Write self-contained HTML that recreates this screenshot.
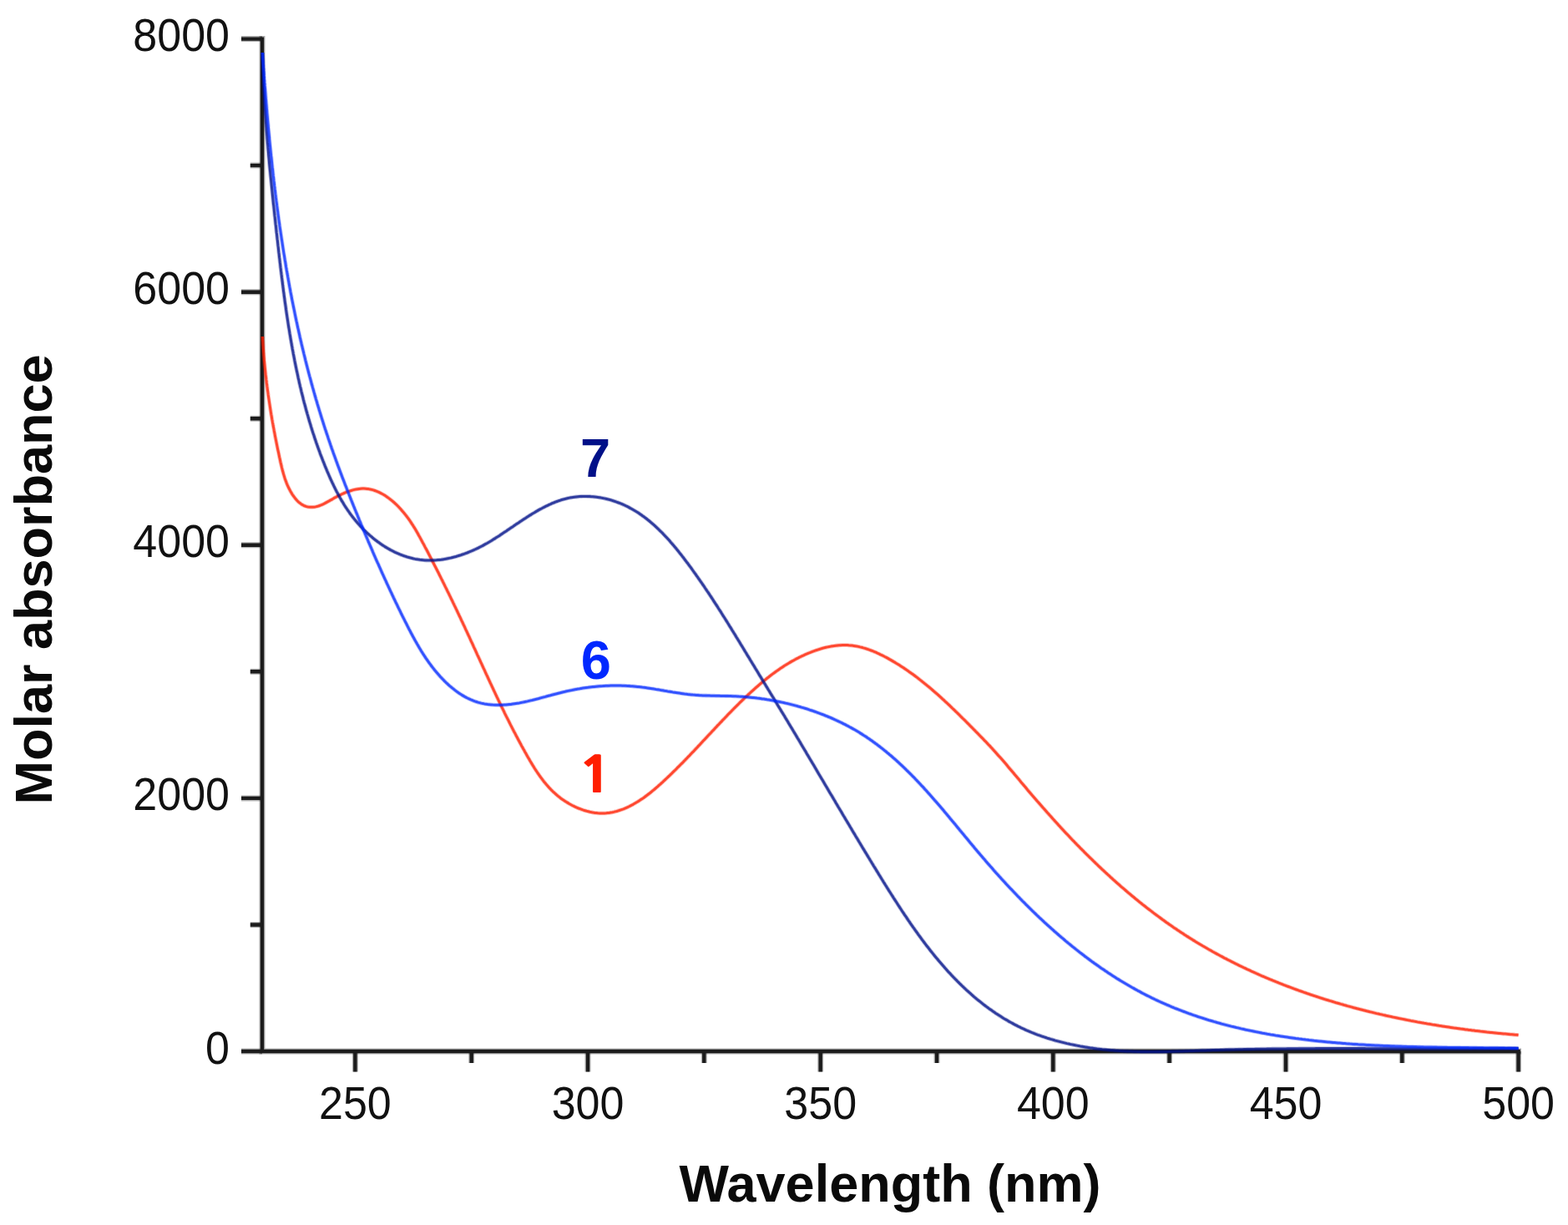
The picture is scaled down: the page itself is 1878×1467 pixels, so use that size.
<!DOCTYPE html>
<html><head><meta charset="utf-8"><title>Molar absorbance vs wavelength</title>
<style>
html,body{margin:0;padding:0;background:#fff;}
body{width:1878px;height:1467px;overflow:hidden;}
svg{display:block;}
text{font-family:"Liberation Sans",Arial,Helvetica,sans-serif;}
</style></head>
<body>
<svg width="1878" height="1467" viewBox="0 0 1878 1467">
<defs>
<path id="cr" d="M314.4 403.0L314.5 405.0L314.6 407.1L314.8 409.1L314.9 411.1L315.0 413.1L315.2 415.1L315.3 417.2L315.5 419.2L315.6 421.2L315.8 423.2L315.9 425.2L316.1 427.2L316.3 429.2L316.4 431.2L316.6 433.2L316.8 435.2L317.0 437.2L317.2 439.2L317.4 441.1L317.6 443.1L317.8 445.1L318.0 447.1L318.2 449.1L318.5 451.1L318.7 453.0L318.9 455.0L319.2 457.0L319.4 459.0L319.7 460.9L319.9 462.9L320.2 464.9L320.4 466.8L320.7 468.8L321.0 470.8L321.2 472.7L321.5 474.7L321.8 476.7L322.1 478.6L322.4 480.6L322.7 482.6L323.0 484.5L323.3 486.5L323.6 488.5L323.9 490.4L324.2 492.4L324.5 494.4L324.8 496.3L325.2 498.3L325.5 500.2L325.8 502.2L326.2 504.2L326.5 506.1L326.9 508.1L327.2 510.1L327.6 512.0L328.0 514.0L328.3 516.0L328.7 517.9L329.1 519.9L329.4 521.9L329.8 523.8L330.2 525.8L330.6 527.8L331.0 529.8L331.4 531.7L331.8 533.7L332.2 535.7L332.6 537.7L333.0 539.7L333.5 541.6L333.9 543.6L334.3 545.6L334.7 547.6L335.2 549.6L335.6 551.6L336.0 553.6L336.5 555.6L337.0 557.6L337.4 559.5L337.9 561.5L338.4 563.5L339.0 565.5L339.5 567.4L340.1 569.4L340.7 571.4L341.3 573.3L342.0 575.2L342.7 577.1L343.4 579.0L344.2 580.9L345.1 582.8L345.9 584.6L346.9 586.4L347.8 588.2L348.9 590.0L349.9 591.8L351.1 593.5L352.3 595.1L353.5 596.7L354.8 598.3L356.1 599.7L357.5 601.1L359.0 602.3L360.5 603.4L362.0 604.4L363.6 605.3L365.3 606.0L367.0 606.6L368.7 607.0L370.5 607.2L372.3 607.3L374.1 607.3L375.9 607.2L377.8 606.9L379.6 606.5L381.5 606.0L383.3 605.3L385.1 604.6L386.9 603.8L388.8 602.9L390.6 601.9L392.4 600.9L394.3 599.9L396.1 598.8L398.0 597.8L399.8 596.7L401.7 595.7L403.5 594.7L405.4 593.7L407.3 592.8L409.2 591.9L411.1 591.0L413.0 590.2L414.9 589.4L416.8 588.7L418.7 588.1L420.7 587.5L422.6 586.9L424.5 586.4L426.4 586.0L428.3 585.7L430.2 585.4L432.1 585.2L434.0 585.1L435.9 585.1L437.8 585.2L439.7 585.4L441.5 585.6L443.4 586.0L445.2 586.4L447.1 586.9L448.9 587.5L450.7 588.2L452.5 588.9L454.3 589.7L456.1 590.6L457.8 591.5L459.6 592.5L461.3 593.6L463.0 594.7L464.7 595.9L466.3 597.1L467.9 598.4L469.5 599.7L471.1 601.0L472.7 602.4L474.2 603.8L475.7 605.3L477.2 606.8L478.6 608.3L480.0 609.8L481.4 611.4L482.7 612.9L484.0 614.5L485.3 616.1L486.6 617.7L487.8 619.3L489.0 620.9L490.2 622.6L491.3 624.2L492.4 625.9L493.5 627.6L494.6 629.2L495.6 630.9L496.7 632.6L497.7 634.3L498.7 636.0L499.7 637.7L500.7 639.5L501.6 641.2L502.6 642.9L503.5 644.6L504.5 646.4L505.4 648.1L506.3 649.9L507.3 651.6L508.2 653.3L509.1 655.1L510.0 656.8L511.0 658.6L511.9 660.3L512.8 662.0L513.7 663.8L514.6 665.5L515.5 667.3L516.4 669.0L517.3 670.8L518.2 672.5L519.1 674.3L520.0 676.0L520.9 677.8L521.8 679.5L522.7 681.3L523.6 683.0L524.5 684.8L525.4 686.5L526.2 688.3L527.1 690.0L528.0 691.8L528.9 693.6L529.8 695.3L530.6 697.1L531.5 698.8L532.4 700.6L533.2 702.4L534.1 704.1L535.0 705.9L535.8 707.6L536.7 709.4L537.6 711.2L538.4 712.9L539.3 714.7L540.1 716.5L541.0 718.2L541.9 720.0L542.7 721.8L543.6 723.6L544.4 725.3L545.3 727.1L546.1 728.9L547.0 730.7L547.8 732.4L548.6 734.2L549.5 736.0L550.3 737.8L551.2 739.5L552.0 741.3L552.8 743.1L553.7 744.9L554.5 746.7L555.3 748.4L556.2 750.2L557.0 752.0L557.8 753.8L558.7 755.6L559.5 757.4L560.3 759.2L561.1 760.9L562.0 762.7L562.8 764.5L563.6 766.3L564.4 768.1L565.3 769.9L566.1 771.7L566.9 773.5L567.7 775.3L568.6 777.1L569.4 778.9L570.2 780.7L571.0 782.5L571.8 784.3L572.7 786.1L573.5 787.9L574.3 789.6L575.1 791.4L575.9 793.2L576.8 795.0L577.6 796.8L578.4 798.6L579.2 800.4L580.1 802.2L580.9 804.0L581.7 805.8L582.5 807.6L583.4 809.4L584.2 811.2L585.0 813.0L585.9 814.8L586.7 816.6L587.5 818.4L588.4 820.2L589.2 822.0L590.1 823.8L590.9 825.6L591.7 827.4L592.6 829.2L593.4 831.0L594.3 832.8L595.1 834.6L596.0 836.4L596.8 838.2L597.7 840.0L598.6 841.8L599.4 843.6L600.3 845.3L601.1 847.1L602.0 848.9L602.9 850.7L603.8 852.5L604.6 854.3L605.5 856.1L606.4 857.9L607.3 859.6L608.2 861.4L609.1 863.2L610.0 865.0L610.9 866.8L611.8 868.6L612.7 870.3L613.6 872.1L614.5 873.9L615.4 875.7L616.4 877.4L617.3 879.2L618.2 881.0L619.2 882.8L620.1 884.5L621.0 886.3L622.0 888.1L622.9 889.8L623.9 891.6L624.8 893.4L625.8 895.1L626.8 896.9L627.8 898.6L628.7 900.4L629.7 902.1L630.7 903.9L631.7 905.7L632.7 907.4L633.7 909.1L634.7 910.9L635.7 912.6L636.8 914.4L637.8 916.1L638.9 917.8L639.9 919.5L641.0 921.2L642.1 922.9L643.2 924.5L644.3 926.2L645.5 927.9L646.6 929.5L647.8 931.1L649.0 932.7L650.2 934.3L651.4 935.9L652.7 937.4L654.0 939.0L655.3 940.5L656.6 942.0L657.9 943.5L659.3 944.9L660.7 946.4L662.1 947.8L663.6 949.1L665.1 950.5L666.6 951.8L668.1 953.1L669.7 954.4L671.3 955.7L673.0 956.9L674.7 958.1L676.4 959.2L678.1 960.3L679.9 961.4L681.7 962.5L683.5 963.5L685.3 964.5L687.2 965.4L689.1 966.3L690.9 967.2L692.9 968.0L694.8 968.7L696.7 969.4L698.7 970.1L700.6 970.7L702.6 971.3L704.5 971.8L706.5 972.3L708.5 972.7L710.4 973.1L712.4 973.4L714.3 973.6L716.3 973.8L718.2 973.9L720.1 973.9L722.0 973.9L724.0 973.9L725.8 973.8L727.7 973.6L729.6 973.4L731.5 973.1L733.3 972.8L735.2 972.4L737.0 971.9L738.8 971.5L740.6 970.9L742.5 970.3L744.3 969.7L746.0 969.1L747.8 968.4L749.6 967.6L751.3 966.8L753.1 966.0L754.8 965.1L756.6 964.2L758.3 963.3L760.0 962.3L761.7 961.3L763.4 960.3L765.1 959.2L766.8 958.1L768.4 957.0L770.1 955.9L771.8 954.7L773.4 953.5L775.0 952.3L776.7 951.0L778.3 949.8L779.9 948.5L781.5 947.2L783.1 945.9L784.7 944.5L786.2 943.2L787.8 941.8L789.3 940.4L790.9 939.1L792.4 937.7L794.0 936.3L795.5 934.8L797.0 933.4L798.5 932.0L800.0 930.6L801.5 929.2L803.0 927.7L804.5 926.3L805.9 924.9L807.4 923.4L808.9 922.0L810.3 920.6L811.7 919.1L813.2 917.7L814.6 916.2L816.0 914.8L817.5 913.4L818.9 911.9L820.3 910.5L821.7 909.0L823.1 907.6L824.5 906.1L825.9 904.7L827.2 903.2L828.6 901.8L830.0 900.4L831.4 898.9L832.7 897.5L834.1 896.0L835.5 894.6L836.8 893.1L838.2 891.7L839.5 890.2L840.9 888.8L842.2 887.3L843.6 885.9L844.9 884.5L846.3 883.0L847.6 881.6L849.0 880.1L850.3 878.7L851.7 877.3L853.0 875.8L854.4 874.4L855.7 872.9L857.0 871.5L858.4 870.1L859.7 868.6L861.1 867.2L862.4 865.8L863.8 864.4L865.1 862.9L866.5 861.5L867.9 860.1L869.2 858.7L870.6 857.3L871.9 855.8L873.3 854.4L874.7 853.0L876.1 851.6L877.4 850.2L878.8 848.8L880.2 847.4L881.6 846.0L883.0 844.6L884.4 843.2L885.8 841.8L887.2 840.4L888.6 839.1L890.1 837.7L891.5 836.3L892.9 834.9L894.4 833.6L895.8 832.2L897.3 830.8L898.7 829.5L900.2 828.1L901.7 826.8L903.2 825.5L904.7 824.1L906.1 822.8L907.7 821.5L909.2 820.2L910.7 818.9L912.2 817.6L913.7 816.3L915.3 815.0L916.8 813.8L918.4 812.5L920.0 811.3L921.6 810.0L923.1 808.8L924.7 807.6L926.3 806.4L928.0 805.2L929.6 804.1L931.2 802.9L932.9 801.8L934.5 800.6L936.2 799.5L937.8 798.4L939.5 797.3L941.2 796.3L942.9 795.2L944.6 794.2L946.4 793.1L948.1 792.1L949.9 791.2L951.6 790.2L953.4 789.2L955.2 788.3L957.0 787.4L958.8 786.5L960.6 785.6L962.4 784.8L964.3 783.9L966.1 783.1L968.0 782.3L969.9 781.6L971.8 780.8L973.7 780.1L975.6 779.4L977.5 778.7L979.4 778.1L981.4 777.5L983.3 776.9L985.3 776.3L987.2 775.8L989.2 775.3L991.1 774.9L993.1 774.5L995.1 774.1L997.0 773.8L999.0 773.5L1001.0 773.2L1003.0 773.0L1004.9 772.8L1006.9 772.7L1008.9 772.6L1010.9 772.6L1012.8 772.6L1014.8 772.6L1016.7 772.8L1018.7 772.9L1020.6 773.1L1022.6 773.4L1024.5 773.7L1026.4 774.0L1028.3 774.4L1030.2 774.9L1032.1 775.3L1034.0 775.9L1035.9 776.4L1037.8 777.0L1039.7 777.6L1041.6 778.3L1043.4 779.0L1045.3 779.7L1047.1 780.5L1049.0 781.2L1050.8 782.1L1052.6 782.9L1054.4 783.8L1056.2 784.6L1058.0 785.5L1059.8 786.5L1061.6 787.4L1063.4 788.4L1065.1 789.4L1066.9 790.4L1068.6 791.4L1070.3 792.4L1072.1 793.4L1073.8 794.5L1075.5 795.5L1077.2 796.6L1078.9 797.7L1080.5 798.7L1082.2 799.8L1083.9 801.0L1085.5 802.1L1087.2 803.2L1088.8 804.4L1090.4 805.5L1092.1 806.7L1093.7 807.8L1095.3 809.0L1096.9 810.2L1098.5 811.4L1100.0 812.6L1101.6 813.9L1103.2 815.1L1104.7 816.3L1106.3 817.6L1107.8 818.8L1109.4 820.1L1110.9 821.3L1112.5 822.6L1114.0 823.9L1115.5 825.2L1117.0 826.5L1118.5 827.8L1120.0 829.1L1121.5 830.4L1123.0 831.7L1124.5 833.0L1126.0 834.4L1127.4 835.7L1128.9 837.1L1130.4 838.4L1131.8 839.8L1133.3 841.1L1134.8 842.5L1136.2 843.8L1137.7 845.2L1139.1 846.6L1140.5 848.0L1142.0 849.4L1143.4 850.7L1144.8 852.1L1146.3 853.5L1147.7 854.9L1149.1 856.3L1150.5 857.7L1151.9 859.1L1153.3 860.5L1154.8 861.9L1156.2 863.3L1157.6 864.7L1159.0 866.1L1160.4 867.5L1161.8 869.0L1163.2 870.4L1164.6 871.8L1166.0 873.2L1167.4 874.6L1168.7 876.0L1170.1 877.4L1171.5 878.8L1172.9 880.3L1174.3 881.7L1175.7 883.1L1177.1 884.5L1178.4 885.9L1179.8 887.4L1181.2 888.8L1182.5 890.2L1183.9 891.7L1185.3 893.1L1186.6 894.6L1188.0 896.0L1189.3 897.5L1190.6 898.9L1192.0 900.4L1193.3 901.9L1194.6 903.4L1195.9 904.9L1197.2 906.3L1198.6 907.8L1199.9 909.3L1201.2 910.8L1202.5 912.3L1203.8 913.8L1205.1 915.3L1206.3 916.8L1207.6 918.4L1208.9 919.9L1210.2 921.4L1211.5 922.9L1212.8 924.4L1214.1 926.0L1215.3 927.5L1216.6 929.0L1217.9 930.5L1219.2 932.1L1220.5 933.6L1221.7 935.1L1223.0 936.7L1224.3 938.2L1225.6 939.7L1226.9 941.3L1228.2 942.8L1229.4 944.3L1230.7 945.9L1232.0 947.4L1233.3 948.9L1234.6 950.4L1235.9 952.0L1237.2 953.5L1238.5 955.0L1239.8 956.5L1241.1 958.0L1242.4 959.6L1243.8 961.1L1245.1 962.6L1246.4 964.1L1247.7 965.6L1249.0 967.1L1250.4 968.6L1251.7 970.1L1253.0 971.6L1254.3 973.1L1255.7 974.6L1257.0 976.1L1258.4 977.6L1259.7 979.1L1261.0 980.6L1262.4 982.1L1263.7 983.6L1265.1 985.1L1266.5 986.6L1267.8 988.1L1269.2 989.5L1270.5 991.0L1271.9 992.5L1273.3 994.0L1274.6 995.4L1276.0 996.9L1277.4 998.4L1278.8 999.8L1280.2 1001.3L1281.5 1002.8L1282.9 1004.2L1284.3 1005.7L1285.7 1007.1L1287.1 1008.6L1288.5 1010.0L1289.9 1011.5L1291.3 1012.9L1292.7 1014.3L1294.1 1015.8L1295.6 1017.2L1297.0 1018.6L1298.4 1020.1L1299.8 1021.5L1301.2 1022.9L1302.7 1024.3L1304.1 1025.7L1305.5 1027.1L1307.0 1028.5L1308.4 1029.9L1309.8 1031.3L1311.3 1032.7L1312.7 1034.1L1314.2 1035.5L1315.6 1036.9L1317.1 1038.3L1318.6 1039.7L1320.0 1041.1L1321.5 1042.4L1323.0 1043.8L1324.4 1045.2L1325.9 1046.5L1327.4 1047.9L1328.9 1049.2L1330.3 1050.6L1331.8 1051.9L1333.3 1053.3L1334.8 1054.6L1336.3 1056.0L1337.8 1057.3L1339.3 1058.6L1340.8 1059.9L1342.3 1061.3L1343.8 1062.6L1345.4 1063.9L1346.9 1065.2L1348.4 1066.5L1349.9 1067.8L1351.4 1069.1L1353.0 1070.4L1354.5 1071.7L1356.0 1073.0L1357.6 1074.2L1359.1 1075.5L1360.7 1076.8L1362.2 1078.0L1363.8 1079.3L1365.3 1080.6L1366.9 1081.8L1368.4 1083.1L1370.0 1084.3L1371.6 1085.5L1373.2 1086.8L1374.7 1088.0L1376.3 1089.2L1377.9 1090.4L1379.5 1091.6L1381.1 1092.9L1382.7 1094.1L1384.3 1095.3L1385.9 1096.4L1387.5 1097.6L1389.1 1098.8L1390.7 1100.0L1392.3 1101.2L1393.9 1102.3L1395.5 1103.5L1397.1 1104.7L1398.8 1105.8L1400.4 1107.0L1402.0 1108.1L1403.7 1109.2L1405.3 1110.4L1406.9 1111.5L1408.6 1112.6L1410.2 1113.7L1411.9 1114.8L1413.6 1115.9L1415.2 1117.0L1416.9 1118.1L1418.5 1119.2L1420.2 1120.3L1421.9 1121.4L1423.6 1122.4L1425.3 1123.5L1426.9 1124.5L1428.6 1125.6L1430.3 1126.6L1432.0 1127.7L1433.7 1128.7L1435.4 1129.7L1437.1 1130.8L1438.8 1131.8L1440.5 1132.8L1442.3 1133.8L1444.0 1134.8L1445.7 1135.8L1447.4 1136.8L1449.2 1137.8L1450.9 1138.7L1452.6 1139.7L1454.4 1140.7L1456.1 1141.6L1457.9 1142.6L1459.6 1143.5L1461.3 1144.5L1463.1 1145.4L1464.9 1146.4L1466.6 1147.3L1468.4 1148.2L1470.1 1149.1L1471.9 1150.0L1473.7 1150.9L1475.5 1151.8L1477.2 1152.7L1479.0 1153.6L1480.8 1154.5L1482.6 1155.4L1484.4 1156.3L1486.2 1157.1L1488.0 1158.0L1489.8 1158.9L1491.6 1159.7L1493.4 1160.6L1495.2 1161.4L1497.0 1162.2L1498.8 1163.1L1500.6 1163.9L1502.4 1164.7L1504.2 1165.5L1506.1 1166.3L1507.9 1167.2L1509.7 1168.0L1511.5 1168.8L1513.4 1169.5L1515.2 1170.3L1517.0 1171.1L1518.9 1171.9L1520.7 1172.7L1522.6 1173.4L1524.4 1174.2L1526.3 1174.9L1528.1 1175.7L1530.0 1176.4L1531.8 1177.2L1533.7 1177.9L1535.5 1178.6L1537.4 1179.4L1539.3 1180.1L1541.1 1180.8L1543.0 1181.5L1544.9 1182.2L1546.8 1182.9L1548.6 1183.6L1550.5 1184.3L1552.4 1185.0L1554.3 1185.7L1556.1 1186.4L1558.0 1187.0L1559.9 1187.7L1561.8 1188.4L1563.7 1189.0L1565.6 1189.7L1567.5 1190.3L1569.4 1191.0L1571.3 1191.6L1573.2 1192.3L1575.1 1192.9L1577.0 1193.5L1578.9 1194.1L1580.8 1194.8L1582.7 1195.4L1584.6 1196.0L1586.5 1196.6L1588.5 1197.2L1590.4 1197.8L1592.3 1198.4L1594.2 1198.9L1596.1 1199.5L1598.1 1200.1L1600.0 1200.7L1601.9 1201.2L1603.8 1201.8L1605.8 1202.4L1607.7 1202.9L1609.6 1203.5L1611.6 1204.0L1613.5 1204.6L1615.4 1205.1L1617.4 1205.6L1619.3 1206.1L1621.2 1206.7L1623.2 1207.2L1625.1 1207.7L1627.1 1208.2L1629.0 1208.7L1631.0 1209.2L1632.9 1209.7L1634.9 1210.2L1636.8 1210.7L1638.8 1211.2L1640.7 1211.7L1642.7 1212.1L1644.6 1212.6L1646.6 1213.1L1648.5 1213.6L1650.5 1214.0L1652.5 1214.5L1654.4 1214.9L1656.4 1215.4L1658.3 1215.8L1660.3 1216.3L1662.3 1216.7L1664.2 1217.1L1666.2 1217.5L1668.2 1218.0L1670.1 1218.4L1672.1 1218.8L1674.1 1219.2L1676.0 1219.6L1678.0 1220.0L1680.0 1220.4L1682.0 1220.8L1683.9 1221.2L1685.9 1221.6L1687.9 1222.0L1689.9 1222.4L1691.8 1222.7L1693.8 1223.1L1695.8 1223.5L1697.8 1223.9L1699.7 1224.2L1701.7 1224.6L1703.7 1224.9L1705.7 1225.3L1707.7 1225.6L1709.6 1226.0L1711.6 1226.3L1713.6 1226.6L1715.6 1227.0L1717.6 1227.3L1719.5 1227.6L1721.5 1227.9L1723.5 1228.3L1725.5 1228.6L1727.5 1228.9L1729.4 1229.2L1731.4 1229.5L1733.4 1229.8L1735.4 1230.1L1737.4 1230.4L1739.4 1230.7L1741.4 1231.0L1743.3 1231.2L1745.3 1231.5L1747.3 1231.8L1749.3 1232.1L1751.3 1232.3L1753.3 1232.6L1755.2 1232.9L1757.2 1233.1L1759.2 1233.4L1761.2 1233.6L1763.2 1233.9L1765.2 1234.1L1767.1 1234.4L1769.1 1234.6L1771.1 1234.8L1773.1 1235.1L1775.1 1235.3L1777.1 1235.5L1779.0 1235.7L1781.0 1236.0L1783.0 1236.2L1785.0 1236.4L1787.0 1236.6L1788.9 1236.8L1790.9 1237.0L1792.9 1237.2L1794.9 1237.4L1796.9 1237.6L1798.8 1237.8L1800.8 1238.0L1802.8 1238.1L1804.8 1238.3L1806.8 1238.5L1808.7 1238.7L1810.7 1238.8L1812.7 1239.0L1814.6 1239.2L1816.6 1239.3L1818.6 1239.5"/>
<path id="cb" d="M314.4 63.0L314.5 65.0L314.7 67.0L314.8 69.0L314.9 71.0L315.1 73.0L315.2 75.0L315.3 76.9L315.5 78.9L315.6 80.9L315.8 82.9L315.9 84.9L316.1 86.9L316.2 88.9L316.3 90.9L316.5 92.9L316.6 94.9L316.8 96.9L316.9 98.9L317.1 100.9L317.2 102.9L317.4 104.9L317.6 106.8L317.7 108.8L317.9 110.8L318.0 112.8L318.2 114.8L318.3 116.8L318.5 118.8L318.7 120.8L318.8 122.8L319.0 124.8L319.2 126.8L319.3 128.8L319.5 130.8L319.7 132.8L319.8 134.8L320.0 136.8L320.2 138.8L320.4 140.8L320.5 142.8L320.7 144.7L320.9 146.7L321.1 148.7L321.3 150.7L321.4 152.7L321.6 154.7L321.8 156.7L322.0 158.7L322.2 160.7L322.4 162.7L322.6 164.7L322.7 166.7L322.9 168.7L323.1 170.7L323.3 172.7L323.5 174.7L323.7 176.7L323.9 178.7L324.1 180.6L324.3 182.6L324.5 184.6L324.7 186.6L325.0 188.6L325.2 190.6L325.4 192.6L325.6 194.6L325.8 196.6L326.0 198.6L326.2 200.6L326.5 202.6L326.7 204.6L326.9 206.6L327.1 208.6L327.3 210.5L327.6 212.5L327.8 214.5L328.0 216.5L328.3 218.5L328.5 220.5L328.7 222.5L329.0 224.5L329.2 226.5L329.5 228.5L329.7 230.5L329.9 232.4L330.2 234.4L330.4 236.4L330.7 238.4L330.9 240.4L331.2 242.4L331.5 244.4L331.7 246.4L332.0 248.4L332.2 250.3L332.5 252.3L332.8 254.3L333.0 256.3L333.3 258.3L333.6 260.3L333.8 262.3L334.1 264.2L334.4 266.2L334.7 268.2L334.9 270.2L335.2 272.2L335.5 274.2L335.8 276.1L336.1 278.1L336.4 280.1L336.7 282.1L337.0 284.1L337.3 286.1L337.6 288.0L337.9 290.0L338.2 292.0L338.5 294.0L338.8 296.0L339.1 297.9L339.4 299.9L339.7 301.9L340.0 303.9L340.4 305.8L340.7 307.8L341.0 309.8L341.3 311.8L341.7 313.8L342.0 315.7L342.3 317.7L342.6 319.7L343.0 321.7L343.3 323.6L343.7 325.6L344.0 327.6L344.4 329.5L344.7 331.5L345.1 333.5L345.4 335.5L345.8 337.4L346.1 339.4L346.5 341.4L346.8 343.3L347.2 345.3L347.6 347.3L347.9 349.2L348.3 351.2L348.7 353.2L349.1 355.1L349.4 357.1L349.8 359.1L350.2 361.0L350.6 363.0L351.0 365.0L351.4 366.9L351.8 368.9L352.2 370.8L352.6 372.8L353.0 374.8L353.4 376.7L353.8 378.7L354.2 380.6L354.6 382.6L355.0 384.5L355.5 386.5L355.9 388.5L356.3 390.4L356.7 392.4L357.2 394.3L357.6 396.3L358.0 398.2L358.5 400.2L358.9 402.1L359.3 404.1L359.8 406.0L360.2 408.0L360.7 409.9L361.1 411.9L361.6 413.8L362.1 415.8L362.5 417.7L363.0 419.6L363.5 421.6L363.9 423.5L364.4 425.5L364.9 427.4L365.4 429.3L365.8 431.3L366.3 433.2L366.8 435.2L367.3 437.1L367.8 439.0L368.3 441.0L368.8 442.9L369.3 444.8L369.8 446.8L370.3 448.7L370.8 450.6L371.4 452.6L371.9 454.5L372.4 456.4L372.9 458.4L373.4 460.3L374.0 462.2L374.5 464.1L375.1 466.1L375.6 468.0L376.1 469.9L376.7 471.8L377.2 473.8L377.8 475.7L378.3 477.6L378.9 479.5L379.5 481.4L380.0 483.4L380.6 485.3L381.2 487.2L381.8 489.1L382.3 491.0L382.9 492.9L383.5 494.8L384.1 496.7L384.7 498.7L385.3 500.6L385.9 502.5L386.5 504.4L387.1 506.3L387.7 508.2L388.3 510.1L388.9 512.0L389.5 513.9L390.2 515.8L390.8 517.7L391.4 519.6L392.1 521.5L392.7 523.4L393.3 525.3L394.0 527.2L394.6 529.1L395.3 531.0L395.9 532.9L396.6 534.8L397.2 536.7L397.9 538.5L398.6 540.4L399.2 542.3L399.9 544.2L400.6 546.1L401.3 548.0L402.0 549.9L402.6 551.7L403.3 553.6L404.0 555.5L404.7 557.4L405.4 559.3L406.1 561.1L406.8 563.0L407.5 564.9L408.2 566.8L408.9 568.6L409.6 570.5L410.3 572.4L411.1 574.3L411.8 576.1L412.5 578.0L413.2 579.9L413.9 581.7L414.7 583.6L415.4 585.5L416.1 587.3L416.9 589.2L417.6 591.0L418.3 592.9L419.1 594.8L419.8 596.6L420.5 598.5L421.3 600.3L422.0 602.2L422.8 604.1L423.5 605.9L424.3 607.8L425.0 609.6L425.8 611.5L426.5 613.3L427.3 615.2L428.1 617.0L428.8 618.9L429.6 620.7L430.3 622.6L431.1 624.4L431.9 626.3L432.6 628.1L433.4 629.9L434.2 631.8L434.9 633.6L435.7 635.5L436.5 637.3L437.2 639.1L438.0 641.0L438.8 642.8L439.6 644.7L440.4 646.5L441.1 648.3L441.9 650.2L442.7 652.0L443.5 653.8L444.3 655.7L445.1 657.5L445.9 659.3L446.6 661.1L447.4 663.0L448.2 664.8L449.0 666.6L449.8 668.5L450.6 670.3L451.4 672.1L452.2 673.9L453.1 675.7L453.9 677.6L454.7 679.4L455.5 681.2L456.3 683.0L457.1 684.8L457.9 686.7L458.8 688.5L459.6 690.3L460.4 692.1L461.2 693.9L462.1 695.7L462.9 697.6L463.7 699.4L464.6 701.2L465.4 703.0L466.3 704.8L467.1 706.6L467.9 708.4L468.8 710.2L469.6 712.0L470.5 713.8L471.3 715.6L472.2 717.5L473.1 719.3L473.9 721.1L474.8 722.9L475.7 724.7L476.5 726.5L477.4 728.3L478.3 730.1L479.2 731.9L480.0 733.7L480.9 735.5L481.8 737.3L482.7 739.1L483.6 740.9L484.5 742.7L485.4 744.5L486.3 746.2L487.2 748.0L488.1 749.8L489.0 751.6L489.9 753.4L490.9 755.2L491.8 757.0L492.7 758.8L493.7 760.5L494.6 762.3L495.6 764.1L496.5 765.8L497.5 767.6L498.5 769.3L499.5 771.1L500.5 772.8L501.5 774.5L502.5 776.2L503.6 778.0L504.6 779.7L505.7 781.4L506.7 783.1L507.8 784.7L508.9 786.4L510.0 788.1L511.1 789.7L512.3 791.4L513.4 793.0L514.6 794.6L515.8 796.2L516.9 797.8L518.2 799.4L519.4 800.9L520.6 802.5L521.9 804.0L523.2 805.6L524.5 807.1L525.8 808.6L527.1 810.1L528.5 811.5L529.9 813.0L531.3 814.4L532.7 815.9L534.1 817.3L535.6 818.6L537.0 820.0L538.5 821.3L540.1 822.6L541.6 823.9L543.2 825.2L544.7 826.4L546.3 827.6L547.9 828.8L549.6 829.9L551.2 831.0L552.9 832.1L554.6 833.1L556.3 834.1L558.1 835.1L559.8 836.0L561.6 836.8L563.4 837.7L565.2 838.4L567.0 839.2L568.8 839.9L570.7 840.5L572.6 841.1L574.5 841.6L576.4 842.1L578.3 842.5L580.3 842.9L582.2 843.2L584.2 843.5L586.1 843.7L588.1 843.9L590.1 844.1L592.1 844.2L594.1 844.3L596.1 844.3L598.1 844.3L600.1 844.3L602.1 844.2L604.1 844.1L606.0 844.0L608.0 843.8L610.0 843.6L612.0 843.4L614.0 843.1L615.9 842.8L617.9 842.5L619.9 842.2L621.9 841.9L623.8 841.5L625.8 841.1L627.8 840.7L629.7 840.3L631.7 839.9L633.7 839.4L635.6 838.9L637.6 838.5L639.5 838.0L641.5 837.5L643.5 837.0L645.4 836.5L647.4 835.9L649.3 835.4L651.3 834.9L653.2 834.4L655.2 833.8L657.1 833.3L659.1 832.8L661.0 832.2L663.0 831.7L665.0 831.2L666.9 830.7L668.9 830.2L670.8 829.7L672.8 829.2L674.7 828.7L676.7 828.3L678.6 827.8L680.6 827.4L682.5 827.0L684.5 826.6L686.4 826.2L688.4 825.8L690.3 825.4L692.3 825.1L694.2 824.8L696.2 824.4L698.1 824.1L700.1 823.8L702.1 823.5L704.0 823.3L706.0 823.0L707.9 822.8L709.9 822.6L711.9 822.4L713.8 822.2L715.8 822.0L717.8 821.8L719.7 821.7L721.7 821.6L723.7 821.4L725.6 821.3L727.6 821.3L729.6 821.2L731.5 821.1L733.5 821.1L735.5 821.1L737.5 821.1L739.5 821.1L741.4 821.1L743.4 821.1L745.4 821.2L747.4 821.2L749.4 821.3L751.4 821.4L753.4 821.5L755.4 821.7L757.4 821.8L759.4 822.0L761.4 822.2L763.4 822.4L765.4 822.6L767.4 822.8L769.4 823.1L771.4 823.3L773.4 823.6L775.5 823.9L777.5 824.2L779.5 824.5L781.5 824.8L783.5 825.1L785.6 825.5L787.6 825.8L789.6 826.1L791.6 826.5L793.7 826.8L795.7 827.2L797.7 827.5L799.7 827.9L801.7 828.2L803.8 828.5L805.8 828.9L807.8 829.2L809.8 829.5L811.8 829.8L813.9 830.1L815.9 830.4L817.9 830.7L819.9 831.0L821.9 831.2L823.9 831.5L825.9 831.7L827.9 831.9L829.9 832.1L831.9 832.2L833.8 832.4L835.8 832.5L837.8 832.7L839.8 832.8L841.8 832.9L843.7 832.9L845.7 833.0L847.7 833.1L849.6 833.1L851.6 833.2L853.6 833.2L855.5 833.2L857.5 833.3L859.5 833.3L861.4 833.3L863.4 833.4L865.3 833.4L867.3 833.4L869.3 833.5L871.2 833.5L873.2 833.6L875.2 833.6L877.1 833.7L879.1 833.8L881.1 833.8L883.1 833.9L885.0 834.1L887.0 834.2L889.0 834.3L891.0 834.5L893.0 834.6L895.0 834.8L896.9 835.0L898.9 835.2L900.9 835.4L902.9 835.6L904.9 835.8L906.9 836.1L908.9 836.3L910.9 836.6L912.8 836.9L914.8 837.1L916.8 837.4L918.8 837.8L920.8 838.1L922.8 838.4L924.8 838.8L926.7 839.1L928.7 839.5L930.7 839.9L932.7 840.3L934.7 840.7L936.6 841.1L938.6 841.5L940.6 842.0L942.5 842.4L944.5 842.9L946.5 843.4L948.4 843.9L950.4 844.4L952.3 844.9L954.3 845.4L956.2 846.0L958.2 846.5L960.1 847.1L962.0 847.6L964.0 848.2L965.9 848.8L967.8 849.4L969.7 850.1L971.6 850.7L973.5 851.3L975.4 852.0L977.3 852.7L979.2 853.4L981.1 854.1L983.0 854.8L984.9 855.5L986.7 856.2L988.6 857.0L990.4 857.7L992.3 858.5L994.1 859.2L996.0 860.0L997.8 860.8L999.6 861.7L1001.4 862.5L1003.2 863.3L1005.0 864.2L1006.8 865.0L1008.6 865.9L1010.4 866.8L1012.2 867.7L1013.9 868.6L1015.7 869.5L1017.4 870.5L1019.1 871.4L1020.9 872.4L1022.6 873.3L1024.3 874.3L1026.0 875.3L1027.7 876.3L1029.4 877.3L1031.0 878.4L1032.7 879.4L1034.3 880.5L1036.0 881.5L1037.6 882.6L1039.2 883.7L1040.9 884.8L1042.5 885.9L1044.1 887.0L1045.6 888.2L1047.2 889.3L1048.8 890.5L1050.4 891.6L1051.9 892.8L1053.5 894.0L1055.0 895.2L1056.6 896.4L1058.1 897.6L1059.6 898.8L1061.1 900.0L1062.6 901.3L1064.1 902.5L1065.6 903.8L1067.1 905.0L1068.6 906.3L1070.0 907.6L1071.5 908.9L1073.0 910.2L1074.4 911.5L1075.9 912.8L1077.3 914.2L1078.7 915.5L1080.2 916.8L1081.6 918.2L1083.0 919.5L1084.4 920.9L1085.8 922.3L1087.2 923.6L1088.6 925.0L1090.0 926.4L1091.4 927.8L1092.8 929.2L1094.2 930.6L1095.6 932.1L1096.9 933.5L1098.3 934.9L1099.6 936.3L1101.0 937.8L1102.4 939.2L1103.7 940.7L1105.1 942.1L1106.4 943.6L1107.7 945.1L1109.1 946.5L1110.4 948.0L1111.7 949.5L1113.1 951.0L1114.4 952.5L1115.7 954.0L1117.0 955.5L1118.3 957.0L1119.6 958.5L1121.0 960.0L1122.3 961.5L1123.6 963.0L1124.9 964.5L1126.2 966.0L1127.5 967.6L1128.8 969.1L1130.1 970.6L1131.4 972.2L1132.7 973.7L1134.0 975.2L1135.2 976.8L1136.5 978.3L1137.8 979.9L1139.1 981.4L1140.4 983.0L1141.7 984.5L1143.0 986.1L1144.3 987.6L1145.6 989.2L1146.8 990.7L1148.1 992.3L1149.4 993.9L1150.7 995.4L1152.0 997.0L1153.3 998.5L1154.6 1000.1L1155.9 1001.7L1157.2 1003.2L1158.5 1004.8L1159.7 1006.3L1161.0 1007.9L1162.3 1009.5L1163.6 1011.0L1164.9 1012.6L1166.2 1014.1L1167.5 1015.7L1168.8 1017.2L1170.1 1018.8L1171.5 1020.4L1172.8 1021.9L1174.1 1023.5L1175.4 1025.0L1176.7 1026.5L1178.0 1028.1L1179.4 1029.6L1180.7 1031.2L1182.0 1032.7L1183.3 1034.2L1184.7 1035.8L1186.0 1037.3L1187.4 1038.8L1188.7 1040.3L1190.0 1041.9L1191.4 1043.4L1192.7 1044.9L1194.1 1046.4L1195.5 1047.9L1196.8 1049.4L1198.2 1050.9L1199.5 1052.4L1200.9 1053.9L1202.3 1055.4L1203.7 1056.9L1205.0 1058.4L1206.4 1059.9L1207.8 1061.4L1209.2 1062.9L1210.6 1064.4L1212.0 1065.8L1213.4 1067.3L1214.8 1068.8L1216.2 1070.2L1217.6 1071.7L1219.0 1073.2L1220.4 1074.6L1221.8 1076.1L1223.2 1077.5L1224.6 1079.0L1226.1 1080.4L1227.5 1081.8L1228.9 1083.3L1230.4 1084.7L1231.8 1086.1L1233.2 1087.5L1234.7 1089.0L1236.1 1090.4L1237.6 1091.8L1239.0 1093.2L1240.5 1094.6L1241.9 1096.0L1243.4 1097.4L1244.8 1098.8L1246.3 1100.1L1247.8 1101.5L1249.3 1102.9L1250.7 1104.3L1252.2 1105.6L1253.7 1107.0L1255.2 1108.3L1256.7 1109.7L1258.2 1111.0L1259.7 1112.4L1261.2 1113.7L1262.7 1115.1L1264.2 1116.4L1265.7 1117.7L1267.2 1119.0L1268.7 1120.3L1270.2 1121.6L1271.7 1122.9L1273.3 1124.2L1274.8 1125.5L1276.3 1126.8L1277.9 1128.1L1279.4 1129.4L1281.0 1130.6L1282.5 1131.9L1284.0 1133.2L1285.6 1134.4L1287.2 1135.7L1288.7 1136.9L1290.3 1138.1L1291.9 1139.4L1293.4 1140.6L1295.0 1141.8L1296.6 1143.0L1298.2 1144.2L1299.7 1145.5L1301.3 1146.6L1302.9 1147.8L1304.5 1149.0L1306.1 1150.2L1307.7 1151.4L1309.3 1152.5L1310.9 1153.7L1312.5 1154.8L1314.2 1156.0L1315.8 1157.1L1317.4 1158.3L1319.0 1159.4L1320.7 1160.5L1322.3 1161.6L1323.9 1162.7L1325.6 1163.8L1327.2 1164.9L1328.9 1166.0L1330.5 1167.1L1332.2 1168.2L1333.8 1169.2L1335.5 1170.3L1337.2 1171.4L1338.8 1172.4L1340.5 1173.4L1342.2 1174.5L1343.9 1175.5L1345.6 1176.5L1347.3 1177.5L1349.0 1178.5L1350.7 1179.5L1352.4 1180.5L1354.1 1181.5L1355.8 1182.5L1357.5 1183.4L1359.2 1184.4L1360.9 1185.3L1362.6 1186.3L1364.4 1187.2L1366.1 1188.1L1367.8 1189.1L1369.6 1190.0L1371.3 1190.9L1373.1 1191.8L1374.8 1192.7L1376.6 1193.5L1378.3 1194.4L1380.1 1195.3L1381.9 1196.1L1383.6 1197.0L1385.4 1197.8L1387.2 1198.7L1389.0 1199.5L1390.8 1200.3L1392.6 1201.1L1394.4 1201.9L1396.2 1202.7L1398.0 1203.5L1399.8 1204.2L1401.6 1205.0L1403.4 1205.8L1405.2 1206.5L1407.0 1207.3L1408.9 1208.0L1410.7 1208.7L1412.5 1209.4L1414.4 1210.1L1416.2 1210.8L1418.0 1211.5L1419.9 1212.2L1421.7 1212.9L1423.6 1213.6L1425.5 1214.2L1427.3 1214.9L1429.2 1215.6L1431.0 1216.2L1432.9 1216.8L1434.8 1217.5L1436.7 1218.1L1438.5 1218.7L1440.4 1219.3L1442.3 1219.9L1444.2 1220.5L1446.1 1221.1L1448.0 1221.7L1449.9 1222.2L1451.8 1222.8L1453.7 1223.4L1455.6 1223.9L1457.5 1224.5L1459.4 1225.0L1461.3 1225.5L1463.2 1226.1L1465.2 1226.6L1467.1 1227.1L1469.0 1227.6L1470.9 1228.1L1472.9 1228.6L1474.8 1229.1L1476.7 1229.5L1478.7 1230.0L1480.6 1230.5L1482.6 1230.9L1484.5 1231.4L1486.5 1231.9L1488.4 1232.3L1490.4 1232.7L1492.3 1233.2L1494.3 1233.6L1496.2 1234.0L1498.2 1234.4L1500.2 1234.8L1502.1 1235.2L1504.1 1235.6L1506.1 1236.0L1508.0 1236.4L1510.0 1236.8L1512.0 1237.2L1514.0 1237.5L1515.9 1237.9L1517.9 1238.3L1519.9 1238.6L1521.9 1239.0L1523.9 1239.3L1525.9 1239.6L1527.9 1240.0L1529.9 1240.3L1531.8 1240.6L1533.8 1240.9L1535.8 1241.2L1537.8 1241.5L1539.8 1241.8L1541.8 1242.1L1543.8 1242.4L1545.8 1242.7L1547.9 1243.0L1549.9 1243.3L1551.9 1243.6L1553.9 1243.8L1555.9 1244.1L1557.9 1244.3L1559.9 1244.6L1561.9 1244.8L1564.0 1245.1L1566.0 1245.3L1568.0 1245.6L1570.0 1245.8L1572.0 1246.0L1574.0 1246.3L1576.1 1246.5L1578.1 1246.7L1580.1 1246.9L1582.1 1247.1L1584.2 1247.3L1586.2 1247.5L1588.2 1247.7L1590.3 1247.9L1592.3 1248.1L1594.3 1248.3L1596.3 1248.5L1598.4 1248.6L1600.4 1248.8L1602.4 1249.0L1604.5 1249.1L1606.5 1249.3L1608.5 1249.5L1610.6 1249.6L1612.6 1249.8L1614.6 1249.9L1616.7 1250.1L1618.7 1250.2L1620.7 1250.4L1622.8 1250.5L1624.8 1250.6L1626.9 1250.8L1628.9 1250.9L1630.9 1251.0L1633.0 1251.1L1635.0 1251.2L1637.0 1251.4L1639.1 1251.5L1641.1 1251.6L1643.2 1251.7L1645.2 1251.8L1647.2 1251.9L1649.3 1252.0L1651.3 1252.1L1653.3 1252.2L1655.4 1252.3L1657.4 1252.4L1659.4 1252.4L1661.5 1252.5L1663.5 1252.6L1665.6 1252.7L1667.6 1252.8L1669.6 1252.8L1671.7 1252.9L1673.7 1253.0L1675.7 1253.1L1677.8 1253.1L1679.8 1253.2L1681.8 1253.3L1683.8 1253.3L1685.9 1253.4L1687.9 1253.4L1689.9 1253.5L1692.0 1253.5L1694.0 1253.6L1696.0 1253.6L1698.0 1253.7L1700.1 1253.7L1702.1 1253.8L1704.1 1253.8L1706.1 1253.9L1708.1 1253.9L1710.2 1254.0L1712.2 1254.0L1714.2 1254.0L1716.2 1254.1L1718.2 1254.1L1720.2 1254.1L1722.2 1254.2L1724.2 1254.2L1726.3 1254.2L1728.3 1254.3L1730.3 1254.3L1732.3 1254.3L1734.3 1254.4L1736.3 1254.4L1738.3 1254.4L1740.3 1254.4L1742.3 1254.5L1744.3 1254.5L1746.3 1254.5L1748.2 1254.5L1750.2 1254.6L1752.2 1254.6L1754.2 1254.6L1756.2 1254.6L1758.2 1254.6L1760.2 1254.7L1762.1 1254.7L1764.1 1254.7L1766.1 1254.7L1768.1 1254.7L1770.0 1254.8L1772.0 1254.8L1774.0 1254.8L1775.9 1254.8L1777.9 1254.9L1779.9 1254.9L1781.8 1254.9L1783.8 1254.9L1785.7 1254.9L1787.7 1255.0L1789.6 1255.0L1791.6 1255.0L1793.5 1255.0L1795.5 1255.1L1797.4 1255.1L1799.3 1255.1L1801.3 1255.1L1803.2 1255.2L1805.1 1255.2L1807.1 1255.2L1809.0 1255.2L1810.9 1255.3L1812.8 1255.3L1814.8 1255.3L1816.7 1255.4L1818.6 1255.4"/>
<path id="cn" d="M314.4 63.0L314.4 65.0L314.5 67.0L314.5 69.0L314.6 71.0L314.7 73.0L314.7 75.0L314.8 77.1L314.8 79.1L314.9 81.1L315.0 83.1L315.1 85.1L315.1 87.1L315.2 89.1L315.3 91.1L315.4 93.1L315.5 95.1L315.6 97.1L315.6 99.1L315.7 101.1L315.8 103.1L315.9 105.1L316.0 107.1L316.1 109.1L316.2 111.1L316.4 113.1L316.5 115.1L316.6 117.1L316.7 119.1L316.8 121.1L316.9 123.1L317.1 125.1L317.2 127.1L317.3 129.1L317.4 131.1L317.6 133.1L317.7 135.1L317.8 137.1L318.0 139.1L318.1 141.1L318.3 143.0L318.4 145.0L318.5 147.0L318.7 149.0L318.8 151.0L319.0 153.0L319.1 155.0L319.3 157.0L319.5 159.0L319.6 161.0L319.8 163.0L319.9 165.0L320.1 167.0L320.3 169.0L320.4 170.9L320.6 172.9L320.8 174.9L320.9 176.9L321.1 178.9L321.3 180.9L321.5 182.9L321.6 184.9L321.8 186.9L322.0 188.9L322.2 190.9L322.4 192.8L322.5 194.8L322.7 196.8L322.9 198.8L323.1 200.8L323.3 202.8L323.5 204.8L323.7 206.8L323.9 208.8L324.1 210.8L324.3 212.7L324.5 214.7L324.7 216.7L324.9 218.7L325.1 220.7L325.3 222.7L325.5 224.7L325.7 226.7L325.9 228.7L326.1 230.7L326.3 232.6L326.5 234.6L326.7 236.6L326.9 238.6L327.1 240.6L327.3 242.6L327.5 244.6L327.8 246.6L328.0 248.6L328.2 250.6L328.4 252.6L328.6 254.6L328.8 256.5L329.0 258.5L329.3 260.5L329.5 262.5L329.7 264.5L329.9 266.5L330.1 268.5L330.4 270.5L330.6 272.5L330.8 274.5L331.0 276.5L331.2 278.5L331.5 280.5L331.7 282.5L331.9 284.4L332.1 286.4L332.4 288.4L332.6 290.4L332.8 292.4L333.0 294.4L333.3 296.4L333.5 298.4L333.7 300.4L333.9 302.4L334.2 304.4L334.4 306.4L334.6 308.4L334.9 310.4L335.1 312.4L335.3 314.4L335.6 316.4L335.8 318.4L336.0 320.4L336.3 322.4L336.5 324.4L336.8 326.4L337.0 328.4L337.3 330.4L337.5 332.4L337.8 334.4L338.0 336.3L338.3 338.3L338.5 340.3L338.8 342.3L339.0 344.3L339.3 346.3L339.5 348.3L339.8 350.3L340.1 352.3L340.3 354.3L340.6 356.3L340.9 358.3L341.1 360.3L341.4 362.3L341.7 364.2L342.0 366.2L342.3 368.2L342.5 370.2L342.8 372.2L343.1 374.2L343.4 376.2L343.7 378.2L344.0 380.2L344.3 382.1L344.6 384.1L344.9 386.1L345.2 388.1L345.5 390.1L345.8 392.1L346.2 394.0L346.5 396.0L346.8 398.0L347.1 400.0L347.5 402.0L347.8 403.9L348.1 405.9L348.5 407.9L348.8 409.9L349.2 411.8L349.5 413.8L349.9 415.8L350.2 417.7L350.6 419.7L351.0 421.7L351.3 423.7L351.7 425.6L352.1 427.6L352.5 429.6L352.8 431.5L353.2 433.5L353.6 435.4L354.0 437.4L354.4 439.4L354.8 441.3L355.2 443.3L355.6 445.2L356.1 447.2L356.5 449.1L356.9 451.1L357.3 453.1L357.8 455.0L358.2 457.0L358.6 458.9L359.1 460.8L359.5 462.8L360.0 464.7L360.5 466.7L360.9 468.6L361.4 470.6L361.9 472.5L362.4 474.4L362.9 476.4L363.3 478.3L363.8 480.2L364.3 482.2L364.9 484.1L365.4 486.0L365.9 487.9L366.4 489.9L366.9 491.8L367.5 493.7L368.0 495.6L368.6 497.5L369.1 499.5L369.7 501.4L370.2 503.3L370.8 505.2L371.4 507.1L372.0 509.0L372.5 510.9L373.1 512.8L373.7 514.7L374.3 516.6L374.9 518.5L375.6 520.4L376.2 522.3L376.8 524.2L377.4 526.1L378.1 528.0L378.7 529.9L379.4 531.8L380.0 533.6L380.7 535.5L381.4 537.4L382.1 539.3L382.8 541.1L383.4 543.0L384.1 544.9L384.9 546.8L385.6 548.6L386.3 550.5L387.0 552.3L387.8 554.2L388.5 556.1L389.2 557.9L390.0 559.8L390.8 561.6L391.5 563.5L392.3 565.3L393.1 567.1L393.9 569.0L394.7 570.8L395.5 572.7L396.3 574.5L397.2 576.3L398.0 578.1L398.9 579.9L399.7 581.7L400.6 583.5L401.5 585.3L402.4 587.1L403.3 588.9L404.3 590.6L405.2 592.4L406.2 594.2L407.1 595.9L408.1 597.6L409.1 599.4L410.2 601.1L411.2 602.8L412.2 604.5L413.3 606.2L414.4 607.9L415.5 609.5L416.6 611.2L417.8 612.8L418.9 614.5L420.1 616.1L421.3 617.7L422.5 619.3L423.8 620.9L425.0 622.4L426.3 624.0L427.6 625.5L428.9 627.1L430.3 628.6L431.6 630.1L433.0 631.5L434.4 633.0L435.8 634.5L437.3 635.9L438.7 637.3L440.2 638.7L441.7 640.0L443.2 641.4L444.8 642.7L446.3 644.0L447.9 645.3L449.4 646.5L451.0 647.7L452.7 649.0L454.3 650.1L455.9 651.3L457.6 652.4L459.2 653.5L460.9 654.6L462.6 655.6L464.3 656.7L466.1 657.6L467.8 658.6L469.6 659.5L471.3 660.4L473.1 661.3L474.9 662.1L476.7 662.9L478.5 663.7L480.3 664.4L482.2 665.1L484.0 665.8L485.9 666.4L487.7 667.0L489.6 667.5L491.5 668.0L493.4 668.5L495.3 669.0L497.2 669.4L499.1 669.7L501.0 670.0L502.9 670.3L504.9 670.5L506.8 670.7L508.8 670.9L510.7 671.0L512.7 671.1L514.6 671.1L516.6 671.1L518.6 671.0L520.6 670.9L522.5 670.8L524.5 670.6L526.5 670.4L528.5 670.2L530.5 669.9L532.4 669.6L534.4 669.2L536.4 668.8L538.4 668.4L540.3 668.0L542.3 667.5L544.2 667.0L546.2 666.5L548.1 665.9L550.1 665.3L552.0 664.7L553.9 664.0L555.8 663.4L557.7 662.7L559.6 662.0L561.5 661.2L563.4 660.4L565.2 659.7L567.1 658.8L568.9 658.0L570.7 657.2L572.5 656.3L574.3 655.4L576.1 654.5L577.9 653.6L579.6 652.6L581.3 651.7L583.1 650.7L584.8 649.7L586.5 648.7L588.2 647.7L589.8 646.7L591.5 645.6L593.2 644.6L594.8 643.5L596.5 642.5L598.2 641.4L599.8 640.3L601.4 639.2L603.1 638.1L604.7 637.0L606.4 635.9L608.0 634.8L609.6 633.7L611.3 632.6L612.9 631.5L614.6 630.4L616.2 629.2L617.9 628.1L619.5 627.0L621.2 625.9L622.8 624.8L624.5 623.7L626.2 622.6L627.8 621.5L629.5 620.4L631.2 619.3L632.9 618.2L634.6 617.1L636.3 616.1L638.0 615.0L639.8 614.0L641.5 612.9L643.3 611.9L645.0 610.9L646.8 609.9L648.6 609.0L650.4 608.0L652.2 607.1L654.0 606.2L655.9 605.3L657.7 604.4L659.6 603.6L661.4 602.7L663.3 602.0L665.2 601.2L667.1 600.5L669.0 599.8L670.9 599.2L672.8 598.5L674.7 598.0L676.7 597.5L678.6 597.0L680.5 596.5L682.5 596.1L684.4 595.8L686.4 595.5L688.4 595.2L690.3 595.0L692.3 594.8L694.3 594.6L696.2 594.5L698.2 594.4L700.2 594.4L702.2 594.4L704.1 594.5L706.1 594.5L708.1 594.7L710.0 594.8L712.0 595.0L714.0 595.2L715.9 595.5L717.9 595.8L719.8 596.1L721.8 596.5L723.7 596.9L725.6 597.3L727.6 597.8L729.5 598.3L731.4 598.8L733.3 599.4L735.1 600.0L737.0 600.6L738.9 601.3L740.7 602.0L742.6 602.7L744.4 603.4L746.2 604.2L748.0 605.0L749.8 605.9L751.5 606.7L753.3 607.6L755.0 608.6L756.7 609.5L758.4 610.5L760.1 611.5L761.8 612.5L763.5 613.5L765.1 614.6L766.7 615.7L768.3 616.8L769.9 618.0L771.5 619.1L773.1 620.3L774.7 621.5L776.2 622.8L777.8 624.0L779.3 625.3L780.8 626.6L782.3 627.9L783.8 629.2L785.3 630.6L786.7 631.9L788.2 633.3L789.6 634.7L791.0 636.1L792.5 637.5L793.9 638.9L795.3 640.4L796.7 641.9L798.0 643.3L799.4 644.8L800.8 646.3L802.1 647.8L803.4 649.4L804.8 650.9L806.1 652.4L807.4 654.0L808.7 655.6L810.0 657.1L811.3 658.7L812.6 660.3L813.8 661.9L815.1 663.5L816.4 665.1L817.6 666.7L818.9 668.3L820.1 670.0L821.3 671.6L822.5 673.2L823.8 674.8L825.0 676.5L826.2 678.1L827.4 679.7L828.6 681.4L829.7 683.0L830.9 684.7L832.1 686.3L833.3 687.9L834.4 689.6L835.6 691.2L836.7 692.9L837.9 694.5L839.0 696.2L840.2 697.8L841.3 699.5L842.5 701.1L843.6 702.8L844.7 704.5L845.8 706.1L846.9 707.8L848.1 709.4L849.2 711.1L850.3 712.8L851.4 714.4L852.5 716.1L853.6 717.8L854.6 719.4L855.7 721.1L856.8 722.8L857.9 724.4L859.0 726.1L860.0 727.8L861.1 729.5L862.2 731.1L863.3 732.8L864.3 734.5L865.4 736.2L866.4 737.9L867.5 739.5L868.6 741.2L869.6 742.9L870.7 744.6L871.7 746.3L872.8 748.0L873.8 749.7L874.9 751.4L875.9 753.0L876.9 754.7L878.0 756.4L879.0 758.1L880.1 759.8L881.1 761.5L882.1 763.2L883.2 764.9L884.2 766.6L885.3 768.3L886.3 770.0L887.3 771.7L888.4 773.4L889.4 775.1L890.4 776.8L891.5 778.6L892.5 780.3L893.6 782.0L894.6 783.7L895.6 785.4L896.7 787.1L897.7 788.8L898.7 790.5L899.8 792.2L900.8 793.9L901.8 795.6L902.9 797.3L903.9 799.0L904.9 800.7L906.0 802.4L907.0 804.1L908.0 805.8L909.0 807.5L910.0 809.2L911.1 810.8L912.1 812.5L913.1 814.2L914.1 815.8L915.1 817.5L916.1 819.1L917.1 820.8L918.1 822.4L919.1 824.0L920.1 825.7L921.1 827.3L922.1 828.9L923.0 830.5L924.0 832.1L925.0 833.7L926.0 835.3L927.0 836.9L927.9 838.5L928.9 840.2L929.9 841.8L930.9 843.4L931.8 845.0L932.8 846.6L933.8 848.2L934.8 849.8L935.7 851.4L936.7 853.0L937.7 854.6L938.7 856.2L939.7 857.8L940.6 859.5L941.6 861.1L942.6 862.7L943.6 864.3L944.5 866.0L945.5 867.6L946.5 869.2L947.5 870.9L948.5 872.5L949.4 874.1L950.4 875.8L951.4 877.4L952.4 879.0L953.4 880.7L954.3 882.3L955.3 884.0L956.3 885.6L957.3 887.3L958.3 888.9L959.2 890.6L960.2 892.2L961.2 893.9L962.2 895.6L963.2 897.2L964.2 898.9L965.2 900.5L966.1 902.2L967.1 903.9L968.1 905.5L969.1 907.2L970.1 908.9L971.1 910.6L972.1 912.2L973.1 913.9L974.1 915.6L975.1 917.3L976.1 919.0L977.0 920.6L978.0 922.3L979.0 924.0L980.0 925.7L981.0 927.4L982.0 929.1L983.0 930.7L984.0 932.4L985.0 934.1L986.0 935.8L987.0 937.5L988.0 939.2L989.0 940.9L990.0 942.6L991.0 944.3L992.0 946.0L993.0 947.7L994.0 949.4L995.0 951.1L996.1 952.8L997.1 954.5L998.1 956.2L999.1 957.9L1000.1 959.6L1001.1 961.4L1002.1 963.1L1003.1 964.8L1004.1 966.5L1005.2 968.2L1006.2 969.9L1007.2 971.6L1008.2 973.3L1009.2 975.1L1010.2 976.8L1011.3 978.5L1012.3 980.2L1013.3 981.9L1014.3 983.6L1015.4 985.4L1016.4 987.1L1017.4 988.8L1018.4 990.5L1019.5 992.2L1020.5 994.0L1021.5 995.7L1022.5 997.4L1023.6 999.1L1024.6 1000.9L1025.6 1002.6L1026.7 1004.3L1027.7 1006.0L1028.7 1007.8L1029.8 1009.5L1030.8 1011.2L1031.9 1013.0L1032.9 1014.7L1033.9 1016.4L1035.0 1018.1L1036.0 1019.9L1037.1 1021.6L1038.1 1023.3L1039.2 1025.1L1040.2 1026.8L1041.3 1028.5L1042.3 1030.3L1043.4 1032.0L1044.4 1033.7L1045.5 1035.4L1046.5 1037.2L1047.6 1038.9L1048.7 1040.6L1049.7 1042.4L1050.8 1044.1L1051.8 1045.8L1052.9 1047.6L1054.0 1049.3L1055.0 1051.0L1056.1 1052.8L1057.2 1054.5L1058.2 1056.2L1059.3 1057.9L1060.4 1059.7L1061.5 1061.4L1062.5 1063.1L1063.6 1064.8L1064.7 1066.6L1065.8 1068.3L1066.9 1070.0L1068.0 1071.7L1069.1 1073.4L1070.2 1075.2L1071.3 1076.9L1072.4 1078.6L1073.5 1080.3L1074.6 1082.0L1075.7 1083.7L1076.8 1085.4L1077.9 1087.1L1079.0 1088.8L1080.1 1090.5L1081.2 1092.2L1082.4 1093.9L1083.5 1095.6L1084.6 1097.2L1085.8 1098.9L1086.9 1100.6L1088.0 1102.3L1089.2 1103.9L1090.3 1105.6L1091.5 1107.3L1092.6 1108.9L1093.8 1110.6L1095.0 1112.2L1096.1 1113.9L1097.3 1115.5L1098.5 1117.1L1099.6 1118.8L1100.8 1120.4L1102.0 1122.0L1103.2 1123.6L1104.4 1125.3L1105.6 1126.9L1106.8 1128.5L1108.0 1130.1L1109.2 1131.7L1110.4 1133.2L1111.7 1134.8L1112.9 1136.4L1114.1 1138.0L1115.3 1139.5L1116.6 1141.1L1117.8 1142.6L1119.1 1144.2L1120.3 1145.7L1121.6 1147.3L1122.9 1148.8L1124.1 1150.3L1125.4 1151.8L1126.7 1153.3L1128.0 1154.8L1129.3 1156.3L1130.6 1157.8L1131.9 1159.3L1133.2 1160.7L1134.5 1162.2L1135.8 1163.7L1137.2 1165.1L1138.5 1166.5L1139.8 1168.0L1141.2 1169.4L1142.5 1170.8L1143.9 1172.2L1145.3 1173.6L1146.6 1175.0L1148.0 1176.4L1149.4 1177.8L1150.8 1179.1L1152.2 1180.5L1153.6 1181.8L1155.0 1183.2L1156.4 1184.5L1157.8 1185.8L1159.3 1187.1L1160.7 1188.4L1162.2 1189.7L1163.6 1191.0L1165.1 1192.3L1166.5 1193.6L1168.0 1194.8L1169.5 1196.1L1171.0 1197.3L1172.5 1198.5L1174.0 1199.7L1175.5 1200.9L1177.0 1202.1L1178.5 1203.3L1180.1 1204.5L1181.6 1205.6L1183.2 1206.8L1184.7 1207.9L1186.3 1209.0L1187.9 1210.1L1189.5 1211.3L1191.0 1212.3L1192.6 1213.4L1194.3 1214.5L1195.9 1215.6L1197.5 1216.6L1199.1 1217.6L1200.8 1218.7L1202.4 1219.7L1204.1 1220.7L1205.8 1221.6L1207.4 1222.6L1209.1 1223.6L1210.8 1224.5L1212.5 1225.4L1214.2 1226.4L1216.0 1227.3L1217.7 1228.2L1219.4 1229.1L1221.2 1229.9L1223.0 1230.8L1224.7 1231.6L1226.5 1232.4L1228.3 1233.3L1230.1 1234.1L1231.9 1234.8L1233.7 1235.6L1235.6 1236.4L1237.4 1237.1L1239.2 1237.8L1241.1 1238.6L1243.0 1239.3L1244.8 1239.9L1246.7 1240.6L1248.6 1241.3L1250.5 1241.9L1252.4 1242.5L1254.3 1243.2L1256.3 1243.8L1258.2 1244.4L1260.1 1244.9L1262.1 1245.5L1264.0 1246.1L1266.0 1246.6L1268.0 1247.1L1269.9 1247.6L1271.9 1248.1L1273.9 1248.6L1275.9 1249.1L1277.8 1249.6L1279.8 1250.0L1281.8 1250.5L1283.8 1250.9L1285.8 1251.3L1287.8 1251.7L1289.8 1252.1L1291.9 1252.5L1293.9 1252.9L1295.9 1253.2L1297.9 1253.6L1299.9 1253.9L1301.9 1254.2L1304.0 1254.6L1306.0 1254.9L1308.0 1255.1L1310.0 1255.4L1312.1 1255.7L1314.1 1256.0L1316.1 1256.2L1318.1 1256.4L1320.2 1256.7L1322.2 1256.9L1324.2 1257.1L1326.2 1257.3L1328.2 1257.5L1330.3 1257.7L1332.3 1257.8L1334.3 1258.0L1336.3 1258.2L1338.3 1258.3L1340.3 1258.4L1342.3 1258.6L1344.3 1258.7L1346.4 1258.8L1348.4 1258.9L1350.4 1259.0L1352.4 1259.1L1354.4 1259.1L1356.4 1259.2L1358.4 1259.3L1360.4 1259.3L1362.4 1259.4L1364.4 1259.4L1366.4 1259.5L1368.4 1259.5L1370.4 1259.5L1372.4 1259.5L1374.4 1259.6L1376.4 1259.6L1378.4 1259.6L1380.4 1259.6L1382.4 1259.6L1384.4 1259.5L1386.4 1259.5L1388.4 1259.5L1390.4 1259.5L1392.3 1259.5L1394.3 1259.4L1396.3 1259.4L1398.3 1259.4L1400.3 1259.3L1402.3 1259.3L1404.3 1259.2L1406.3 1259.2L1408.3 1259.1L1410.3 1259.1L1412.3 1259.0L1414.3 1258.9L1416.2 1258.9L1418.2 1258.8L1420.2 1258.7L1422.2 1258.7L1424.2 1258.6L1426.2 1258.5L1428.2 1258.5L1430.2 1258.4L1432.2 1258.3L1434.2 1258.3L1436.2 1258.2L1438.1 1258.1L1440.1 1258.0L1442.1 1258.0L1444.1 1257.9L1446.1 1257.8L1448.1 1257.8L1450.1 1257.7L1452.1 1257.6L1454.1 1257.6L1456.1 1257.5L1458.1 1257.4L1460.1 1257.4L1462.1 1257.3L1464.1 1257.3L1466.0 1257.2L1468.0 1257.1L1470.0 1257.1L1472.0 1257.0L1474.0 1257.0L1476.0 1256.9L1478.0 1256.9L1480.0 1256.8L1482.0 1256.8L1484.0 1256.7L1486.0 1256.7L1488.0 1256.7L1490.0 1256.6L1492.0 1256.6L1494.0 1256.5L1496.0 1256.5L1498.0 1256.5L1500.0 1256.4L1502.0 1256.4L1504.0 1256.3L1506.0 1256.3L1508.0 1256.3L1510.0 1256.2L1512.0 1256.2L1514.0 1256.2L1516.0 1256.2L1518.0 1256.1L1520.0 1256.1L1522.0 1256.1L1524.0 1256.0L1526.0 1256.0L1528.0 1256.0L1530.0 1256.0L1532.0 1255.9L1534.0 1255.9L1536.0 1255.9L1538.0 1255.9L1540.0 1255.9L1542.0 1255.8L1544.0 1255.8L1546.0 1255.8L1548.0 1255.8L1550.0 1255.8L1552.1 1255.8L1554.1 1255.8L1556.1 1255.7L1558.1 1255.7L1560.1 1255.7L1562.1 1255.7L1564.1 1255.7L1566.1 1255.7L1568.1 1255.7L1570.1 1255.7L1572.1 1255.7L1574.1 1255.7L1576.1 1255.6L1578.1 1255.6L1580.1 1255.6L1582.1 1255.6L1584.1 1255.6L1586.1 1255.6L1588.1 1255.6L1590.2 1255.6L1592.2 1255.6L1594.2 1255.6L1596.2 1255.6L1598.2 1255.6L1600.2 1255.6L1602.2 1255.6L1604.2 1255.6L1606.2 1255.6L1608.2 1255.6L1610.2 1255.6L1612.2 1255.6L1614.2 1255.6L1616.2 1255.6L1618.2 1255.6L1620.3 1255.6L1622.3 1255.6L1624.3 1255.6L1626.3 1255.6L1628.3 1255.6L1630.3 1255.6L1632.3 1255.6L1634.3 1255.6L1636.3 1255.7L1638.3 1255.7L1640.3 1255.7L1642.3 1255.7L1644.3 1255.7L1646.4 1255.7L1648.4 1255.7L1650.4 1255.7L1652.4 1255.7L1654.4 1255.7L1656.4 1255.7L1658.4 1255.7L1660.4 1255.7L1662.4 1255.7L1664.4 1255.7L1666.4 1255.7L1668.4 1255.7L1670.4 1255.8L1672.4 1255.8L1674.5 1255.8L1676.5 1255.8L1678.5 1255.8L1680.5 1255.8L1682.5 1255.8L1684.5 1255.8L1686.5 1255.8L1688.5 1255.8L1690.5 1255.8L1692.5 1255.8L1694.5 1255.8L1696.5 1255.8L1698.5 1255.8L1700.5 1255.8L1702.5 1255.9L1704.5 1255.9L1706.6 1255.9L1708.6 1255.9L1710.6 1255.9L1712.6 1255.9L1714.6 1255.9L1716.6 1255.9L1718.6 1255.9L1720.6 1255.9L1722.6 1255.9L1724.6 1255.9L1726.6 1255.9L1728.6 1255.9L1730.6 1255.9L1732.6 1255.9L1734.6 1255.9L1736.6 1255.9L1738.6 1255.9L1740.6 1255.9L1742.6 1255.9L1744.6 1255.9L1746.6 1255.9L1748.6 1255.9L1750.6 1255.9L1752.6 1255.9L1754.6 1255.9L1756.7 1255.9L1758.7 1255.9L1760.7 1255.9L1762.7 1255.9L1764.7 1255.8L1766.7 1255.8L1768.7 1255.8L1770.7 1255.8L1772.7 1255.8L1774.7 1255.8L1776.7 1255.8L1778.7 1255.8L1780.7 1255.8L1782.7 1255.8L1784.7 1255.7L1786.7 1255.7L1788.7 1255.7L1790.7 1255.7L1792.6 1255.7L1794.6 1255.7L1796.6 1255.6L1798.6 1255.6L1800.6 1255.6L1802.6 1255.6L1804.6 1255.6L1806.6 1255.5L1808.6 1255.5L1810.6 1255.5L1812.6 1255.5L1814.6 1255.4L1816.6 1255.4L1818.6 1255.4"/>
<path id="ax" d="M314.0 46.6V1259.0H1818.6"/>
<path id="tk" d="M289 1259.0H314.0M289 955.9H314.0M289 652.8H314.0M289 349.7H314.0M289 46.6H314.0M299.8 1107.5H314.0M299.8 804.3H314.0M299.8 501.2H314.0M299.8 198.1H314.0M425.4 1259.0V1283.6M704.0 1259.0V1283.6M982.7 1259.0V1283.6M1261.3 1259.0V1283.6M1540.0 1259.0V1283.6M1818.6 1259.0V1283.6M564.7 1259.0V1273.0M843.3 1259.0V1273.0M1122.0 1259.0V1273.0M1400.6 1259.0V1273.0M1679.3 1259.0V1273.0"/>
</defs>
<rect width="1878" height="1467" fill="#fff"/>
<g fill="none" stroke="#000" stroke-linecap="square" stroke-linejoin="miter">
<use href="#ax" stroke-width="7.0" stroke-opacity="0.3"/>
<use href="#tk" stroke-width="7.0" stroke-opacity="0.3" stroke-linecap="butt"/>
<use href="#ax" stroke="#1c1c1c" stroke-width="4.4"/>
<use href="#tk" stroke="#1c1c1c" stroke-width="4.4" stroke-linecap="butt"/>
</g>
<g fill="none" stroke-linejoin="round" stroke-linecap="butt">
<use href="#cr" stroke="#ff1e00" stroke-width="4.8" stroke-opacity="0.28"/>
<use href="#cr" stroke="#ff1e00" stroke-width="3.0" stroke-opacity="0.74"/>
<use href="#cn" stroke="#001088" stroke-width="4.8" stroke-opacity="0.28"/>
<use href="#cn" stroke="#001088" stroke-width="3.0" stroke-opacity="0.74"/>
<use href="#cb" stroke="#0028ff" stroke-width="4.8" stroke-opacity="0.28"/>
<use href="#cb" stroke="#0028ff" stroke-width="3.0" stroke-opacity="0.72"/>
</g>
<g font-size="52" fill="#111" text-anchor="end"><text transform="translate(275.0 1273.5) scale(1 1.050)">0</text><text transform="translate(275.0 970.4) scale(1 1.050)">2000</text><text transform="translate(275.0 667.3) scale(1 1.050)">4000</text><text transform="translate(275.0 364.2) scale(1 1.050)">6000</text><text transform="translate(275.0 61.1) scale(1 1.050)">8000</text></g>
<g font-size="52" fill="#111" text-anchor="middle"><text transform="translate(425.4 1340.0) scale(1 1.050)">250</text><text transform="translate(704.0 1340.0) scale(1 1.050)">300</text><text transform="translate(982.7 1340.0) scale(1 1.050)">350</text><text transform="translate(1261.3 1340.0) scale(1 1.050)">400</text><text transform="translate(1540.0 1340.0) scale(1 1.050)">450</text><text transform="translate(1818.6 1340.0) scale(1 1.050)">500</text></g>
<text x="1066" y="1439" font-size="63" font-weight="bold" fill="#0a0a0a" text-anchor="middle">Wavelength (nm)</text>
<text transform="translate(62.4 694) rotate(-90)" font-size="63" font-weight="bold" fill="#0a0a0a" text-anchor="middle">Molar absorbance</text>
<g font-size="65" font-weight="bold">
<text x="695" y="571" fill="#001088">7</text>
<text x="695.7" y="813.2" fill="#0028ff">6</text>
<text transform="translate(691.9 949.3) scale(1.2 1)" fill="#ff1e00" style="font-family:NanumGothic,'Liberation Sans',sans-serif" font-weight="800" font-size="59">1</text>
</g>
</svg>
</body></html>
